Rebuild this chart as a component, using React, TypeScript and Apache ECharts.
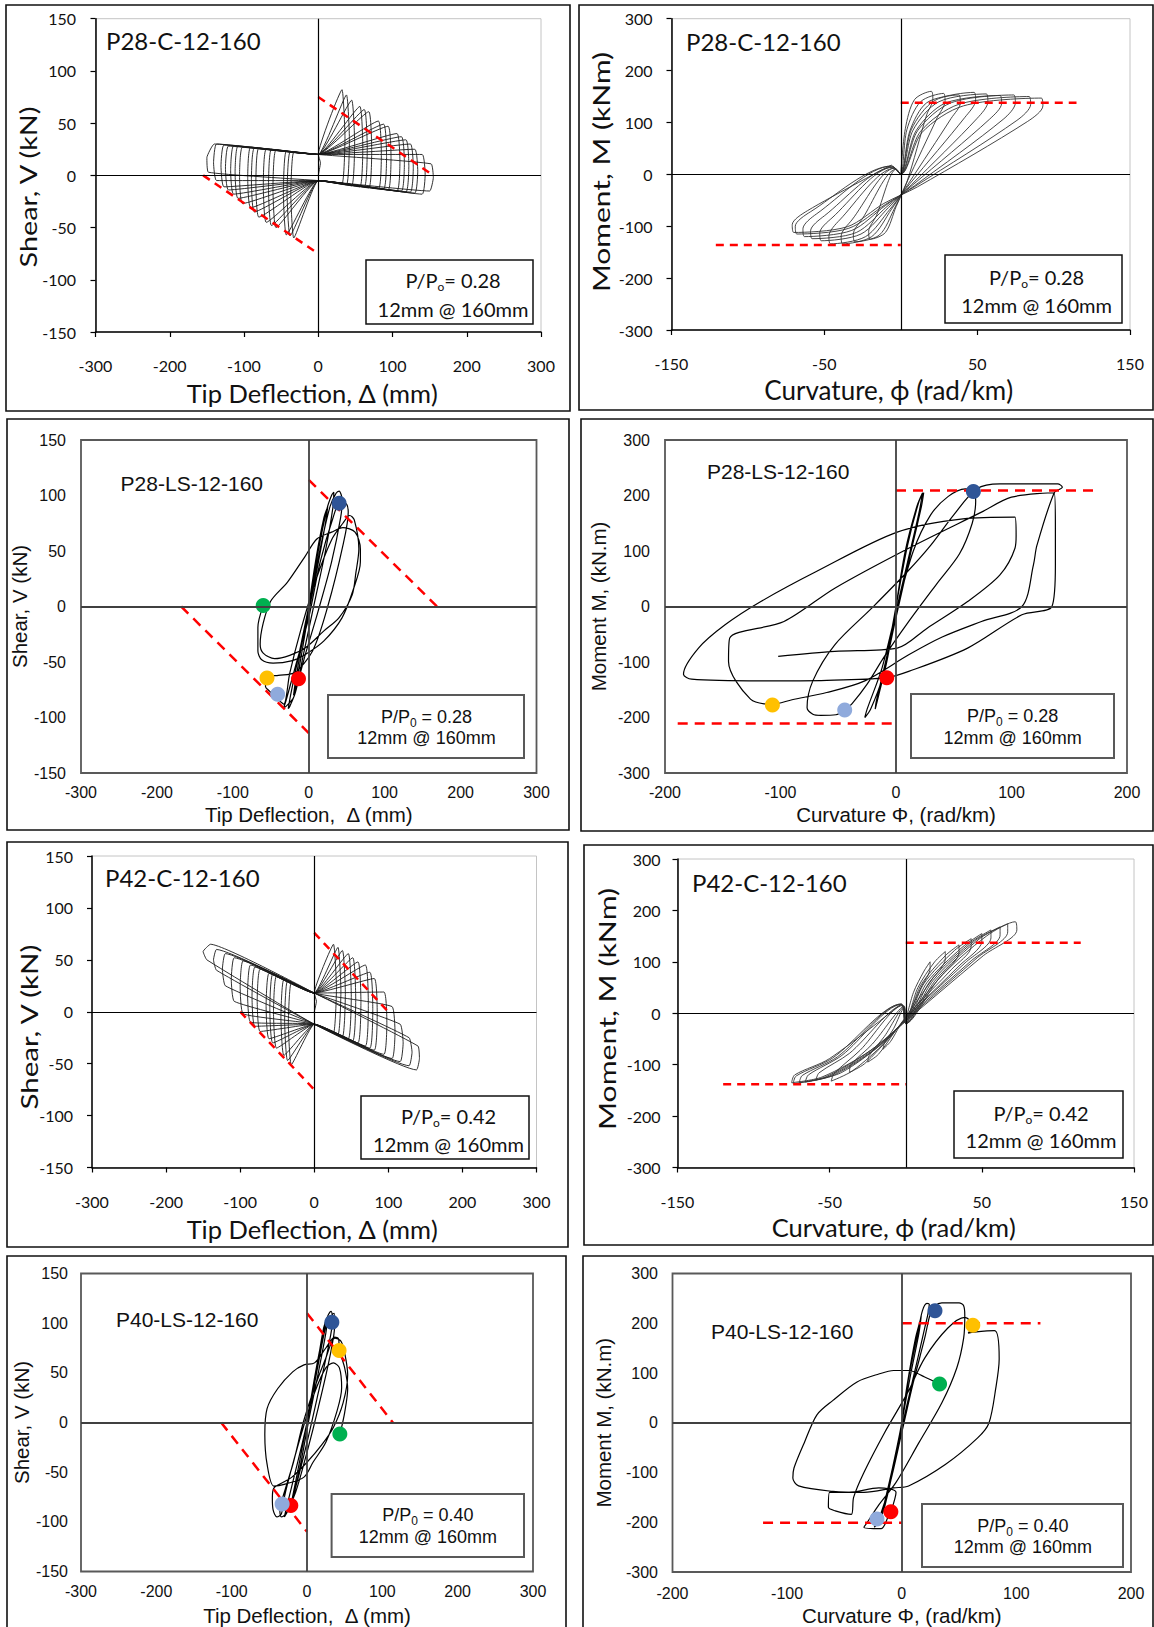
import React, { useEffect, useRef } from "react";
import * as echarts from "echarts";

type Pt = [number, number];
type Mark = [string, number, number];

// ---------------- axis ranges [min, max, step] ----------------
const shearRange = [-150, 150, 50];
const deflRange = [-300, 300, 100];
const momentRange = [-300, 300, 100];
const curvCRange = [-150, 150, 100];
const curvLSRange = [-200, 200, 100];

// ---------------- P28-C-12-160 shear vs tip deflection ----------------
const p28cShear: Pt[] = [
  [0, 0], [3, 12], [0, 20],
  [32, 82], [36, 37], [32, -8], [0, -5], [-33, -60], [-37, -19], [-33, 22], [0, 20],
  [38, 77], [42, 34], [38, -9], [0, -5], [-38, -58], [-42, -18], [-38, 22], [0, 20],
  [45, 72], [49, 31], [45, -10], [0, -5], [-43, -57], [-47, -17], [-43, 23], [0, 20],
  [56, 66], [60, 27], [56, -11], [0, -5], [-57, -50], [-61, -13], [-57, 24], [0, 20],
  [62, 63], [66, 26], [62, -11], [0, -5], [-63, -48], [-67, -12], [-63, 25], [0, 20],
  [68, 61], [72, 24], [68, -12], [0, -5], [-70, -45], [-74, -10], [-70, 25], [0, 20],
  [81, 52], [85, 20], [81, -13], [0, -5], [-80, -40], [-84, -7], [-80, 26], [0, 20],
  [88, 49], [92, 18], [88, -13], [0, -5], [-86, -35], [-90, -4], [-86, 26], [0, 20],
  [94, 47], [98, 17], [94, -14], [0, -5], [-91, -31], [-95, -2], [-91, 27], [0, 20],
  [106, 40], [110, 12], [106, -15], [0, -5], [-102, -27], [-106, 0], [-102, 27], [0, 20],
  [112, 37], [116, 11], [112, -15], [0, -5], [-108, -22], [-112, 3], [-108, 28], [0, 20],
  [118, 34], [122, 9], [118, -16], [0, -5], [-114, -18], [-118, 5], [-114, 28], [0, 20],
  [124, 30], [128, 7], [124, -16], [0, -5], [-121, -14], [-125, 7], [-121, 28], [0, 20],
  [130, 25], [134, 4], [130, -17], [0, -5], [-127, -11], [-131, 9], [-127, 29], [0, 20],
  [140, 20], [144, 1], [140, -18], [0, -5], [-137, -5], [-141, 12], [-137, 30], [0, 20],
  [152, 11], [155, -2], [150, -15], [0, -5], [-148, 3], [-150, 17], [-140, 30], [0, 20],
];
const p28cShearLimits: Pt[][] = [
  [[0, 75], [155, 0]],
  [[-155, 0], [0, -75]],
];

// ---------------- P28-C-12-160 moment vs curvature ----------------
const p28cMoment: Pt[] = [
  [0, 0], [3, 88], [9, 144], [20, 160], [21, 145], [17, 115], [4, -15], [-3, -62], [-10, -112], [-20, -125], [-21, -110], [-16, -80], [-3, 10],
  [0, 0], [4, 86], [13, 140], [28, 156], [29, 141], [24, 110], [4, -15], [-4, -65], [-14, -117], [-30, -130], [-31, -115], [-25, -85], [-3, 10],
  [0, 0], [6, 84], [17, 138], [38, 153], [39, 138], [33, 108], [5, -18], [-6, -67], [-19, -120], [-38, -134], [-39, -119], [-32, -88], [-4, 12],
  [0, 0], [7, 87], [22, 142], [48, 158], [49, 143], [42, 110], [6, -18], [-7, -67], [-23, -120], [-46, -134], [-47, -119], [-40, -88], [-4, 12],
  [0, 0], [8, 85], [25, 140], [56, 155], [57, 140], [50, 108], [7, -20], [-8, -64], [-26, -115], [-52, -128], [-53, -113], [-45, -84], [-5, 14],
  [0, 0], [10, 84], [29, 137], [65, 152], [66, 137], [58, 106], [8, -20], [-9, -62], [-29, -112], [-58, -124], [-59, -109], [-50, -80], [-5, 14],
  [0, 0], [11, 84], [33, 138], [74, 153], [75, 138], [67, 106], [9, -22], [-10, -60], [-32, -108], [-63, -120], [-64, -105], [-55, -76], [-6, 16],
  [0, 0], [13, 83], [38, 135], [84, 150], [85, 135], [76, 104], [10, -22], [-10, -58], [-34, -104], [-68, -115], [-69, -100], [-59, -72], [-6, 16],
  [0, 0], [14, 81], [41, 132], [92, 147], [93, 132], [83, 102], [11, -24], [-11, -56], [-35, -101], [-70, -112], [-71, -97], [-61, -70], [-6, 18],
];
const p28cMomentLimits: Pt[][] = [
  [[0, 138], [115, 138]],
  [[-121, -136], [0, -136]],
];

// ---------------- P28-LS-12-160 shear vs tip deflection ----------------
const p28lsShear: Pt[] = [
  [0, 0], [10, 45], [20, 80], [25, 90], [22, 75], [10, 30], [0, -5], [-10, -45], [-18, -75], [-20, -80], [-17, -65], [-8, -30], [0, 0],
  [12, 48], [24, 88], [30, 100], [33, 103], [32, 90], [22, 50], [8, 5], [-6, -40], [-18, -78], [-25, -90], [-27, -92], [-24, -80], [-12, -40], [0, 0],
  [15, 52], [28, 90], [36, 102], [40, 104], [44, 96], [42, 80], [30, 40], [12, -5], [-4, -42], [-13, -65], [-20, -82], [-30, -90], [-33, -91], [-30, -85], [-18, -55], [0, -10],
  [15, 40], [32, 80], [42, 95], [50, 92], [52, 85], [45, 55], [25, 0], [5, -40], [-20, -60], [-40, -62], [-55, -64], [-57, -72], [-52, -76], [-40, -84], [-33, -88], [-25, -60], [-10, -20], [10, 25],
  [30, 60], [45, 75], [54, 82], [60, 78], [66, 52], [62, 30], [57, 10], [40, -10], [20, -22], [-4, -37], [-25, -44], [-45, -47], [-60, -42], [-64, -34], [-60, -15], [-50, 5], [-28, 22], [-5, 45], [11, 61],
  [30, 67], [45, 71], [61, 67], [68, 52], [68, 40], [59, 16], [44, -10], [20, -31], [-4, -43], [-23, -49], [-47, -51], [-62, -48], [-67, -40], [-67, -19], [-60, 1],
];
const p28lsShearLimits: Pt[][] = [
  [[0, 114], [169, 0]],
  [[-168, 0], [0, -114]],
];
const p28lsShearMarks: Mark[] = [
  ["blue", 40, 93], ["green", -60, 1], ["yellow", -55, -64.5], ["red", -13.5, -65], ["lightblue", -41, -79],
];

// ---------------- P28-LS-12-160 moment vs curvature ----------------
const p28lsMoment: Pt[] = [
  [0, 0], [8, 100], [18, 180], [23, 205], [20, 170], [10, 80], [0, -10], [-8, -100], [-15, -160], [-18, -185], [-17, -170], [-8, -90], [0, 0],
  [10, 110], [20, 190], [24, 205], [22, 180], [12, 90], [0, -20], [-12, -130], [-22, -185], [-27, -200], [-25, -185], [-12, -110], [0, -10],
  [15, 100], [30, 165], [45, 198], [60, 212], [67, 207], [69, 190], [66, 150], [55, 95], [35, 40], [10, -30], [-10, -90], [-25, -140], [-38, -175], [-44, -186], [-52, -195], [-65, -196], [-72, -194], [-77, -182], [-72, -134], [-53, -69], [-21, -3], [10, 63], [30, 110], [50, 165], [70, 212], [90, 221], [140, 221], [144, 215], [137, 205], [122, 110], [119, 75], [109, 0], [74, -27], [40, -55], [11, -87], [-27, -134], [-60, -155], [-90, -168], [-107, -176],
  [-126, -167], [-145, -99], [-144, -57], [-97, -27], [-53, 33], [11, 105], [74, 170], [100, 197], [137, 205], [138, 140], [138, 75], [135, 0], [109, -15], [62, -75], [11, -117], [-8, -128],
  [-60, -133], [-117, -134], [-177, -131], [-184, -122], [-171, -75], [-148, -33], [-117, 9], [-69, 63], [1, 134], [58, 158], [103, 161], [104, 128], [103, 105], [90, 57], [62, 9], [27, -39], [1, -75], [-53, -81], [-102, -90],
];
const p28lsMomentLimits: Pt[][] = [
  [[0, 209], [171, 209]],
  [[-189, -211], [0, -211]],
];
const p28lsMomentMarks: Mark[] = [
  ["blue", 67, 207], ["red", -8, -128.5], ["yellow", -107, -177.5], ["lightblue", -44.4, -186.5],
];

// ---------------- P42-C-12-160 shear vs tip deflection ----------------
const p42cShear: Pt[] = [
  [0, 0], [3, 10], [0, 18],
  [26, 65], [30, 23], [26, -20], [0, -12], [-31, -51], [-35, -12], [-31, 28], [0, 18],
  [32, 62], [36, 20], [32, -22], [0, -12], [-36, -47], [-40, -9], [-36, 30], [0, 18],
  [38, 59], [42, 18], [38, -24], [0, -12], [-41, -42], [-45, -6], [-41, 31], [0, 18],
  [46, 56], [50, 15], [46, -26], [0, -12], [-51, -35], [-55, 0], [-51, 34], [0, 18],
  [52, 52], [56, 12], [52, -28], [0, -12], [-56, -30], [-60, 3], [-56, 36], [0, 18],
  [59, 48], [63, 9], [59, -30], [0, -12], [-61, -26], [-65, 6], [-61, 37], [0, 18],
  [69, 45], [73, 6], [69, -33], [0, -12], [-73, -19], [-77, 11], [-73, 41], [0, 18],
  [75, 38], [79, 2], [75, -35], [0, -12], [-80, -14], [-84, 15], [-80, 43], [0, 18],
  [81, 32], [85, -3], [81, -37], [0, -12], [-86, -10], [-90, 18], [-86, 45], [0, 18],
  [94, 19], [98, -11], [94, -41], [0, -12], [-96, -2], [-100, 24], [-96, 49], [0, 18],
  [105, 5], [109, -20], [105, -45], [0, -12], [-108, 10], [-112, 31], [-108, 52], [0, 18],
  [116, -12], [120, -30], [116, -48], [0, -12], [-120, 25], [-124, 41], [-120, 56], [0, 18],
  [128, -25], [132, -39], [128, -52], [0, -12], [-132, 40], [-136, 50], [-132, 60], [0, 18],
  [140, -33], [142, -45], [138, -56], [0, -12], [-145, 50], [-150, 58], [-140, 65], [0, 18],
];
const p42cShearLimits: Pt[][] = [
  [[0, 76], [100, 0]],
  [[-100, 0], [0, -75]],
];

// ---------------- P42-C-12-160 moment vs curvature ----------------
const p42cMoment: Pt[] = [
  [0, -15], [5, 40], [12, 82], [16, 100], [16, 88], [10, 50], [2, 0], [-4, -25], [-10, -55], [-15, -70], [-14, -58], [-8, -30], [-1, 10],
  [0, -15], [8, 50], [19, 100], [26, 120], [26, 106], [17, 65], [3, 5], [-7, -35], [-18, -80], [-25, -95], [-24, -82], [-14, -45], [-1, 12],
  [0, -15], [10, 55], [26, 112], [35, 133], [35, 118], [24, 75], [4, 5], [-10, -45], [-27, -98], [-37, -115], [-36, -100], [-22, -60], [-1, 14],
  [0, -18], [12, 58], [32, 122], [43, 145], [43, 130], [30, 85], [5, 8], [-13, -55], [-35, -112], [-49, -132], [-47, -117], [-30, -72], [-2, 15],
  [0, -18], [14, 60], [37, 128], [50, 155], [50, 140], [35, 92], [6, 8], [-16, -60], [-42, -115], [-59, -130], [-57, -116], [-37, -78], [-2, 16],
  [0, -20], [16, 62], [41, 134], [56, 162], [56, 147], [39, 98], [7, 10], [-18, -65], [-47, -120], [-66, -134], [-64, -120], [-42, -82], [-3, 17],
  [0, -20], [18, 64], [45, 140], [62, 168], [62, 152], [43, 102], [8, 10], [-20, -68], [-50, -122], [-70, -135], [-68, -121], [-45, -85], [-3, 18],
  [0, -20], [20, 66], [49, 146], [67, 174], [67, 158], [47, 108], [9, 10], [-22, -70], [-53, -124], [-74, -137], [-72, -122], [-48, -87], [-3, 18],
  [0, -20], [22, 68], [53, 150], [72, 178], [73, 162], [51, 112], [10, 10], [-23, -72], [-55, -124], [-75, -135], [-73, -120], [-50, -88], [-3, 18],
];
const p42cMomentLimits: Pt[][] = [
  [[0, 137], [115, 137]],
  [[-120, -138], [0, -138]],
];

// ---------------- P40-LS-12-160 shear vs tip deflection ----------------
const p40lsShear: Pt[] = [
  [0, 0], [10, 45], [20, 85], [25, 100], [27, 103], [25, 90], [15, 50], [3, 5], [-8, -40], [-18, -75], [-22, -85], [-20, -78], [-10, -40], [0, 0],
  [12, 50], [22, 95], [28, 108], [32, 112], [34, 104], [28, 75], [15, 30], [0, -20], [-15, -65], [-25, -88], [-30, -95], [-27, -85], [-14, -45], [0, 0],
  [14, 55], [26, 100], [33, 108], [36, 110], [37, 100], [30, 65], [15, 15], [0, -30], [-15, -70], [-28, -92], [-34, -95], [-36, -88], [-30, -70], [-18, -40], [-5, 0],
  [10, 35], [25, 65], [37, 85], [45, 82], [50, 70], [54, 48], [48, 20], [35, -5], [20, -22], [0, -40], [-20, -55], [-31, -60], [-44, -66], [-46, -76], [-45, -88], [-40, -95], [-34, -92], [-30, -75], [-20, -45], [-5, -5], [10, 30], [25, 55],
  [35, 60], [43, 55], [46, 35], [40, 12], [25, -20], [8, -40], [-4, -55], [-29, -62], [-44, -64], [-53, -42], [-56, -12], [-53, 14], [-39, 34], [-19, 51], [-4, 58], [10, 60], [25, 75], [37, 86], [42, 84], [43, 73], [50, 55], [54, 34], [50, 10], [44, -11],
];
const p40lsShearLimits: Pt[][] = [
  [[0, 110], [114, 0]],
  [[-114, 0], [0, -110]],
];
const p40lsShearMarks: Mark[] = [
  ["blue", 33, 101], ["yellow", 42.6, 72.6], ["green", 43.6, -11.5], ["red", -21.5, -83.6], ["lightblue", -33, -82],
];

// ---------------- P40-LS-12-160 moment vs curvature ----------------
const p40lsMoment: Pt[] = [
  [0, 0], [5, 80], [12, 170], [16, 205], [17, 215], [15, 180], [8, 100], [0, 0], [-8, -100], [-15, -170], [-18, -190], [-16, -170], [-8, -90], [0, 0],
  [6, 90], [14, 180], [18, 225], [22, 240], [24, 238], [20, 190], [10, 90], [0, -10], [-10, -120], [-18, -185], [-22, -205], [-24, -210], [-20, -195], [-10, -120], [0, -20],
  [10, 80], [20, 170], [25, 220], [29, 235], [35, 241], [50, 241], [54, 235], [55, 215], [54, 170], [48, 110], [35, 40], [15, -40], [-5, -120], [-20, -165], [-30, -200], [-33, -210], [-18, -213], [-12, -190], [-9.5, -179], [-5, -140],
  [-20, -131], [-46, -140], [-63, -140], [-64, -170], [-58, -177], [-44, -184], [-42, -150], [-33, -100], [-15, -20], [5, 60], [20, 130], [40, 190], [55, 212], [62, 196], [58, 180], [63, 182], [81, 185], [85, 128], [82, 69], [76, -1], [66, -31], [38, -84], [6, -127], [-7, -131],
  [-33, -140], [-60, -138], [-90, -127], [-95, -111], [-94, -91], [-85, -40], [-74, 16], [-60, 45], [-39, 82], [-20, 98], [-7, 105], [6, 105], [20, 92], [33, 78],
];
const p40lsMomentLimits: Pt[][] = [
  [[0, 200], [121, 200]],
  [[-121, -201], [0, -201]],
];
const p40lsMomentMarks: Mark[] = [
  ["blue", 29, 225], ["yellow", 62, 196], ["green", 33, 78], ["red", -9.5, -179], ["lightblue", -21.6, -193.6],
];

// ---------------- styling / layout ----------------
const CF = "Lato, 'Open Sans', sans-serif";
const LF = "'Liberation Sans', Arial, sans-serif";
const markColors: Record<string, string> = {
  blue: "#2F5597",
  green: "#00B050",
  yellow: "#FFC000",
  red: "#FF0000",
  lightblue: "#8FAADC",
};

const panels = [
  {
    kind: "C", title: "P28-C-12-160", ratio: "0.28", data: p28cShear, limits: p28cShearLimits, marks: [] as Mark[],
    xr: deflRange, yr: shearRange, xName: "Tip Deflection, Δ (mm)", yName: "Shear, V (kN)",
    grid: { left: 95.5, top: 18.7, width: 445.5, height: 313.3 }, xm: 25, ym: 19.5, xg: 48, yg: 57,
    yn: [28, 187, 1.2], xns: 25.5, xshift: 12, smooth: 0.12, lc: "#1a1a1a",
    frame: [6, 5, 564, 406], tpos: [106, 40], box: [366, 260, 167, 64], btxt: [453, 280, 309],
  },
  {
    kind: "C", title: "P28-C-12-160", ratio: "0.28", data: p28cMoment, limits: p28cMomentLimits, marks: [] as Mark[],
    xr: curvCRange, yr: momentRange, xName: "Curvature, ϕ (rad/km)", yName: "Moment, M (kNm)",
    grid: { left: 671.5, top: 18.7, width: 458.5, height: 311.3 }, xm: 25, ym: 19, xg: 47, yg: 59.5,
    yn: [601, 172, 1.25], xns: 26, xshift: 24, smooth: 0.3, lc: "#333",
    frame: [579, 5, 574, 405], tpos: [686, 41], box: [945, 255, 177, 68], btxt: [1036.6, 277, 305],
  },
  {
    kind: "LS", title: "P28-LS-12-160", ratio: "0.28", data: p28lsShear, limits: p28lsShearLimits, marks: p28lsShearMarks,
    xr: deflRange, yr: shearRange, xName: "Tip Deflection,  Δ (mm)", yName: "Shear, V (kN)",
    grid: { left: 81, top: 440, width: 455.5, height: 333 }, xm: 11, ym: 15, xg: 31, yg: 45.5,
    yn: null, xns: 20.5, xshift: 0, smooth: 0.3, lc: "#000",
    frame: [7, 419, 562, 411], tpos: [120.6, 483.5], box: [328, 695, 196, 63], btxt: [426.5, 717, 738],
  },
  {
    kind: "LS", title: "P28-LS-12-160", ratio: "0.28", data: p28lsMoment, limits: p28lsMomentLimits, marks: p28lsMomentMarks,
    xr: curvLSRange, yr: momentRange, xName: "Curvature Φ, (rad/km)", yName: "Moment M, (kN.m)",
    grid: { left: 665, top: 440, width: 462, height: 333 }, xm: 11, ym: 15, xg: 31, yg: 56.5,
    yn: null, xns: 20.5, xshift: 0, smooth: 0.3, lc: "#000",
    frame: [581, 419, 572, 412], tpos: [707, 471.5], box: [911, 694, 203, 64], btxt: [1012.7, 716, 738],
  },
  {
    kind: "C", title: "P42-C-12-160", ratio: "0.42", data: p42cShear, limits: p42cShearLimits, marks: [] as Mark[],
    xr: deflRange, yr: shearRange, xName: "Tip Deflection, Δ (mm)", yName: "Shear, V (kN)",
    grid: { left: 92, top: 856, width: 444.5, height: 311.5 }, xm: 25.5, ym: 19, xg: 48, yg: 52,
    yn: [29, 1027, 1.23], xns: 25.5, xshift: 4, smooth: 0.12, lc: "#1a1a1a",
    frame: [7, 842, 561, 405], tpos: [105, 877], box: [361, 1096, 168, 63], btxt: [448.5, 1116, 1144],
  },
  {
    kind: "C", title: "P42-C-12-160", ratio: "0.42", data: p42cMoment, limits: p42cMomentLimits, marks: [] as Mark[],
    xr: curvCRange, yr: momentRange, xName: "Curvature, ϕ (rad/km)", yName: "Moment, M (kNm)",
    grid: { left: 677.5, top: 859, width: 456.5, height: 308.5 }, xm: 25.5, ym: 17, xg: 46, yg: 59.5,
    yn: [607, 1009, 1.26], xns: 25.5, xshift: 24, smooth: 0.3, lc: "#333",
    frame: [584, 845, 569, 400], tpos: [692, 882], box: [954, 1091, 169, 67], btxt: [1041, 1113, 1140],
  },
  {
    kind: "LS", title: "P40-LS-12-160", ratio: "0.40", data: p40lsShear, limits: p40lsShearLimits, marks: p40lsShearMarks,
    xr: deflRange, yr: shearRange, xName: "Tip Deflection,  Δ (mm)", yName: "Shear, V (kN)",
    grid: { left: 81, top: 1273.5, width: 452, height: 299.5 }, xm: 12, ym: 13, xg: 33.5, yg: 46.5,
    yn: null, xns: 20.5, xshift: 0, smooth: 0.3, lc: "#000",
    frame: [7, 1256, 559, 380], tpos: [116, 1319.5], box: [331.6, 1494, 192.4, 63], btxt: [427.8, 1515, 1537],
  },
  {
    kind: "LS", title: "P40-LS-12-160", ratio: "0.40", data: p40lsMoment, limits: p40lsMomentLimits, marks: p40lsMomentMarks,
    xr: curvLSRange, yr: momentRange, xName: "Curvature Φ, (rad/km)", yName: "Moment M, (kN.m)",
    grid: { left: 672.5, top: 1273.5, width: 458.5, height: 299.5 }, xm: 13, ym: 14.5, xg: 33, yg: 58.5,
    yn: null, xns: 20.5, xshift: 0, smooth: 0.3, lc: "#000",
    frame: [583, 1256, 570, 380], tpos: [711, 1331], box: [922, 1504, 201, 63], btxt: [1022.8, 1526, 1547],
  },
];

function buildOption() {
  const grids: any[] = [];
  const xAxes: any[] = [];
  const yAxes: any[] = [];
  const series: any[] = [];
  const graphics: any[] = [];

  panels.forEach((p, i) => {
    const isC = p.kind === "C";
    const font = isC ? CF : LF;
    const tickSize = 16;
    const axisCommon = (r: number[], margin: number, name: string, gap: number, nameSize: number, shift: number) => ({
      type: "value",
      gridIndex: i,
      min: r[0],
      max: r[1],
      interval: r[2],
      axisLine: { show: isC, onZero: false, lineStyle: { color: "#000", width: 1.5 } },
      axisTick: { show: isC, inside: false, length: 5, lineStyle: { color: "#000", width: 1.2 } },
      axisLabel: { fontFamily: font, fontSize: tickSize, color: "#111", margin },
      splitLine: { show: false },
      name,
      nameLocation: "middle",
      nameGap: gap,
      nameTextStyle: { fontFamily: font, fontSize: nameSize, color: "#111", padding: [0, shift, 0, 0] },
    });
    grids.push({
      ...p.grid,
      show: true,
      borderColor: isC ? "#c4c4c4" : "#595959",
      borderWidth: isC ? 1 : 1.8,
      backgroundColor: "transparent",
    });
    xAxes.push(axisCommon(p.xr, p.xm, p.xName, p.xg, p.xns, p.xshift));
    yAxes.push(axisCommon(p.yr, p.ym, p.yn ? "" : p.yName, p.yg, 20.5, 0));

    if (p.yn) {
      // stretched rotated axis title, as in the source figure
      graphics.push({
        type: "text",
        x: p.yn[0],
        y: p.yn[1],
        rotation: Math.PI / 2,
        scaleX: p.yn[2],
        style: {
          text: p.yName,
          fontFamily: font,
          fontSize: 24,
          fill: "#111",
          align: "center",
          verticalAlign: "middle",
        },
        silent: true,
      });
    }

    series.push({
      type: "line",
      xAxisIndex: i,
      yAxisIndex: i,
      data: p.data,
      symbol: "none",
      showSymbol: false,
      smooth: p.smooth,
      lineStyle: { color: p.lc, width: isC ? 0.9 : 1.2 },
      z: 2,
      silent: true,
      markLine: {
        silent: true,
        symbol: ["none", "none"],
        label: { show: false },
        lineStyle: { color: isC ? "#000" : "#404040", width: isC ? 1.2 : 1.8, type: "solid" },
        data: [{ xAxis: 0 }, { yAxis: 0 }],
      },
    });
    p.limits.forEach((seg) => {
      series.push({
        type: "line",
        xAxisIndex: i,
        yAxisIndex: i,
        data: seg,
        symbol: "none",
        showSymbol: false,
        lineStyle: { color: "#FF0000", width: 2.5, type: isC ? [8, 6] : [10, 7] },
        z: 3,
        silent: true,
      });
    });
    if (p.marks.length) {
      series.push({
        type: "scatter",
        xAxisIndex: i,
        yAxisIndex: i,
        symbolSize: 15,
        z: 4,
        silent: true,
        data: p.marks.map((m) => ({ value: [m[1], m[2]], itemStyle: { color: markColors[m[0]], opacity: 1 } })),
      });
    }

    // panel frame
    graphics.push({
      type: "rect",
      shape: { x: p.frame[0], y: p.frame[1], width: p.frame[2], height: p.frame[3] },
      style: { fill: "none", stroke: "#111", lineWidth: 1.6 },
      silent: true,
    });
    // title
    graphics.push({
      type: "text",
      x: p.tpos[0],
      y: p.tpos[1],
      style: {
        text: p.title,
        fontFamily: font,
        fontSize: isC ? 24 : 21,
        fill: "#111",
        align: "left",
        verticalAlign: "middle",
      },
      silent: true,
    });
    // ratio box
    graphics.push({
      type: "rect",
      shape: { x: p.box[0], y: p.box[1], width: p.box[2], height: p.box[3] },
      style: { fill: "#fff", stroke: isC ? "#111" : "#595959", lineWidth: isC ? 1.5 : 2 },
      z: 10,
      silent: true,
    });
    const bsize = isC ? 20 : 18;
    graphics.push({
      type: "text",
      x: p.btxt[0],
      y: p.btxt[1],
      z: 11,
      style: {
        text: isC ? `{a|P/P}{s|o}{a|= ${p.ratio}}` : `{a|P/P}{s|0}{a| = ${p.ratio}}`,
        align: "center",
        verticalAlign: "middle",
        rich: {
          a: { fontFamily: font, fontSize: bsize, fill: "#111", lineHeight: 24, verticalAlign: "middle" },
          s: { fontFamily: font, fontSize: 12, fill: "#111", verticalAlign: "bottom" },
        },
      },
      silent: true,
    });
    graphics.push({
      type: "text",
      x: p.btxt[0],
      y: p.btxt[2],
      z: 11,
      style: {
        text: "12mm @ 160mm",
        fontFamily: font,
        fontSize: bsize,
        fill: "#111",
        align: "center",
        verticalAlign: "middle",
      },
      silent: true,
    });
  });

  return {
    animation: false,
    backgroundColor: "#fff",
    grid: grids,
    xAxis: xAxes,
    yAxis: yAxes,
    series,
    graphic: { elements: graphics },
  };
}

export default function App() {
  const ref = useRef<HTMLDivElement>(null);
  useEffect(() => {
    if (!ref.current) return;
    const chart = echarts.init(ref.current, null, { renderer: "svg" });
    chart.setOption(buildOption() as any);
    return () => chart.dispose();
  }, []);
  return (
    <div
      ref={ref}
      style={{ position: "absolute", left: 0, top: 0, width: 1154, height: 1627, background: "#fff" }}
    />
  );
}
